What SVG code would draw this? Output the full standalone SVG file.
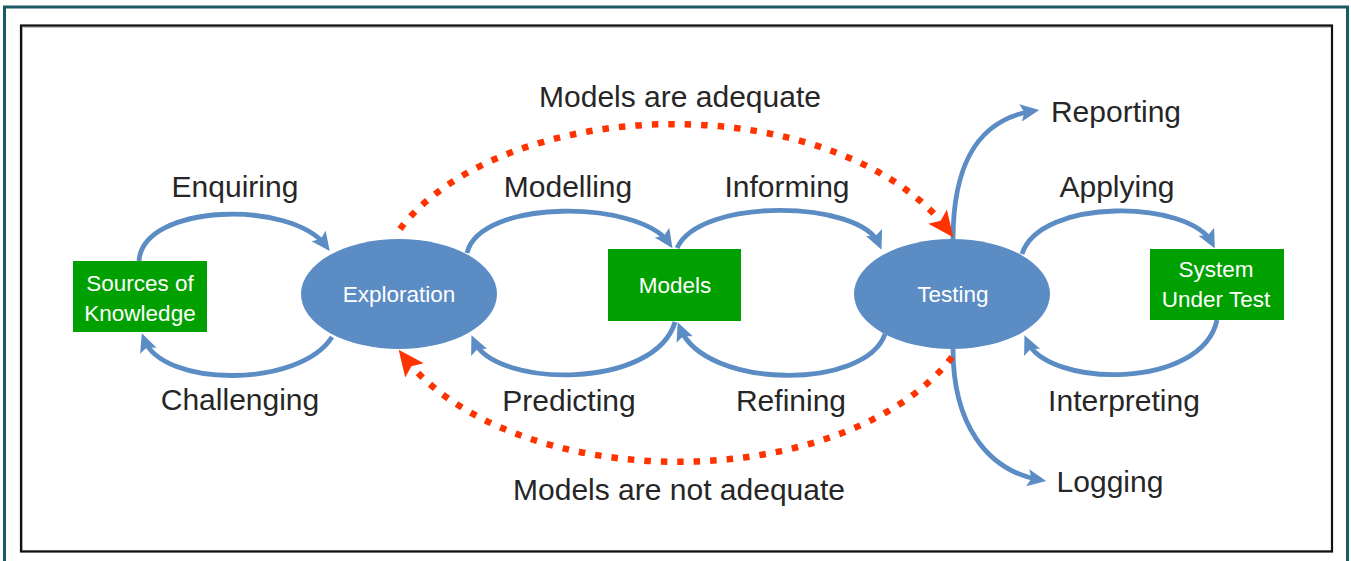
<svg xmlns="http://www.w3.org/2000/svg" width="1351" height="561" viewBox="0 0 1351 561">
<style>
.lbl{font-family:"Liberation Sans",Arial,sans-serif;font-size:30px;fill:#262626;text-anchor:middle}
.nt{font-family:"Liberation Sans",Arial,sans-serif;font-size:22.5px;fill:#ffffff;text-anchor:middle}
.box{fill:#00a000}
.ell{fill:#5b8cc4}
.blue{fill:none;stroke:#5b8cc4;stroke-width:4.8;marker-end:url(#ab)}
.red{fill:none;stroke:#ff3300;stroke-width:6.5;stroke-dasharray:6.5 10;marker-end:url(#ar)}
</style>
<defs>
<marker id="ab" markerUnits="userSpaceOnUse" markerWidth="20" markerHeight="20" refX="10" refY="7" orient="auto" viewBox="0 0 16 14">
<path d="M0,0 L15,7 L0,14 L3,7 z" fill="#5b8cc4"/>
</marker>
<marker id="ar" markerUnits="userSpaceOnUse" markerWidth="26" markerHeight="26" refX="12" refY="9" orient="auto" viewBox="0 0 20 18">
<path d="M0,0 L20,9 L0,18 L4,9 z" fill="#ff3300"/>
</marker>
</defs>
<rect x="0" y="0" width="1351" height="561" fill="#ffffff"/>
<path d="M4.5,580 V7 H1347.5 V580" fill="none" stroke="#1a5a66" stroke-width="3"/>
<rect x="22" y="27" width="1310" height="524" fill="none" stroke="#b0b0b0" stroke-width="1.5"/>
<rect x="21" y="25.5" width="1311" height="526" fill="none" stroke="#111111" stroke-width="2.2"/>

<g id="connectors">
<path class="blue" d="M139,261 C143,203 292,200 326,246"/>
<path class="blue" d="M332,337 C300,388 162,388 144,339"/>
<path class="blue" d="M467,253 C480,198 640,200 669,243"/>
<path class="blue" d="M677,248 C700,197 860,200 879,244"/>
<path class="blue" d="M675,322 C655,390 495,388 474,341"/>
<path class="blue" d="M885,334 C866,390 705,390 680,328"/>
<path class="blue" d="M1022,254 C1040,197 1190,200 1212,243"/>
<path class="blue" d="M1217,320 C1202,390 1048,388 1027,341"/>
<path class="blue" d="M953,240 C953,168 975,120 1033,111"/>
<path class="blue" d="M953,349 C953,422 985,470 1040,480"/>
<path class="red" d="M400,229 A300,178 0 0 1 947,229"/>
<path class="red" d="M952,357 A300,177 0 0 1 405,358"/>
</g>

<g id="sources"><rect class="box" x="73" y="261" width="134" height="71"/><text class="nt" x="140" y="291">Sources of</text><text class="nt" x="140" y="321">Knowledge</text></g>
<g id="exploration"><ellipse class="ell" cx="399" cy="294" rx="98" ry="55"/><text class="nt" x="399" y="302">Exploration</text></g>
<g id="models"><rect class="box" x="608" y="249" width="133" height="72"/><text class="nt" x="675" y="293">Models</text></g>
<g id="testing"><ellipse class="ell" cx="952" cy="294" rx="98" ry="55"/><text class="nt" x="953" y="302">Testing</text></g>
<g id="sut"><rect class="box" x="1150" y="249" width="134" height="71"/><text class="nt" x="1216" y="277">System</text><text class="nt" x="1216" y="307">Under Test</text></g>

<g id="labels">
<text class="lbl" x="680" y="107">Models are adequate</text>
<text class="lbl" x="235" y="197">Enquiring</text>
<text class="lbl" x="568" y="197">Modelling</text>
<text class="lbl" x="787" y="197">Informing</text>
<text class="lbl" x="1117" y="197">Applying</text>
<text class="lbl" x="1116" y="122">Reporting</text>
<text class="lbl" x="240" y="410">Challenging</text>
<text class="lbl" x="569" y="411">Predicting</text>
<text class="lbl" x="791" y="411">Refining</text>
<text class="lbl" x="1124" y="411">Interpreting</text>
<text class="lbl" x="1110" y="492">Logging</text>
<text class="lbl" x="679" y="500">Models are not adequate</text>
</g>
</svg>
